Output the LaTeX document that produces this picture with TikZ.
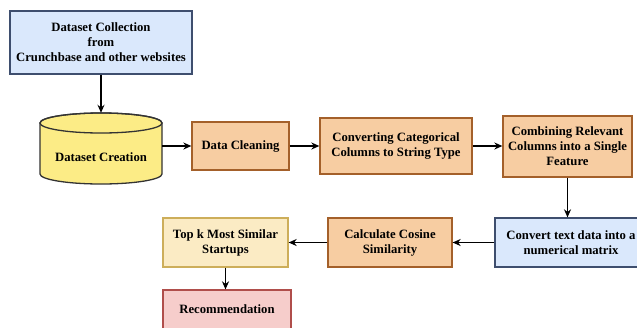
\documentclass[tikz,border=0pt]{standalone}
\usepackage{fontspec}
\setmainfont{Liberation Serif}
\usetikzlibrary{arrows.meta}
\definecolor{bluefill}{HTML}{DAE8FC}
\definecolor{blueline}{HTML}{3E4E6E}
\definecolor{orfill}{HTML}{F7CDA2}
\definecolor{orline}{HTML}{A4602A}
\definecolor{yelfill}{HTML}{FCEC86}
\definecolor{yelline}{HTML}{333333}
\definecolor{ltyfill}{HTML}{FBEBC4}
\definecolor{ltyline}{HTML}{CDAE5A}
\definecolor{pkfill}{HTML}{F6CDCB}
\definecolor{pkline}{HTML}{B04E4B}
\begin{document}
\begin{tikzpicture}[x=1pt,y=-1pt,
  txt/.style={font=\bfseries\fontsize{12.7}{15}\selectfont},
  box/.style={draw, line width=1.3pt, align=center, inner sep=2pt, txt},
  bluebox/.style={box, fill=bluefill, draw=blueline},
  orbox/.style={box, fill=orfill, draw=orline},
  ltybox/.style={box, fill=ltyfill, draw=ltyline},
  pkbox/.style={box, fill=pkfill, draw=pkline},
  arr/.style={-{Stealth[length=8pt,width=7pt]}, line width=1.4pt, black}]
\useasboundingbox (0,0) rectangle (637,327);
\clip (0,0) rectangle (637,327);

\node[bluebox, minimum width=182pt, minimum height=63pt] (coll) at (101,42.5)
  {Dataset Collection\\from\\Crunchbase and other websites};

% cylinder
\filldraw[fill=yelfill, draw=yelline, line width=1.3pt]
  (40,123) -- (40,174) arc[start angle=180, end angle=0, x radius=61, y radius=10]
  -- (162,123) arc[start angle=0, end angle=-180, x radius=61, y radius=10] -- cycle;
\draw[yelline, line width=1.3pt] (101,123) ellipse[x radius=61, y radius=10];
\node[minimum width=122pt, minimum height=71pt, inner sep=0pt] (cyl) at (101,148.5) {};
\node[txt] (cyltxt) at (101,157) {Dataset Creation};

\node[orbox, minimum width=97pt, minimum height=48pt] (clean) at (240.5,146) {Data Cleaning};
\node[orbox, minimum width=152pt, minimum height=56pt] (conv) at (396,146)
  {Converting Categorical\\Columns to String Type};
\node[orbox, minimum width=129pt, minimum height=61pt] (comb) at (567.5,146.5)
  {Combining Relevant\\Columns into a Single\\Feature};
\node[bluebox, minimum width=152pt, minimum height=49pt] (vec) at (571,242.5)
  {Convert text data into a\\numerical matrix};
\node[orbox, minimum width=124pt, minimum height=49pt] (cos) at (390,242.5)
  {Calculate Cosine\\Similarity};
\node[ltybox, minimum width=125pt, minimum height=49pt] (topk) at (225.5,242.5)
  {Top k Most Similar\\Startups};
\node[pkbox, minimum width=128pt, minimum height=50pt] (rec) at (227,315)
  {\raisebox{12pt}{Recommendation}};

\draw[arr] (coll.south) -- (cyl.north);
\draw[arr] (cyl.east |- clean.west) -- (clean.west);
\draw[arr] (clean.east) -- (conv.west);
\draw[arr] (conv.east) -- (conv.east -| comb.west);
\draw[arr] (comb.south) -- (comb.south |- vec.north);
\draw[arr] (vec.west) -- (cos.east);
\draw[arr] (cos.west) -- (topk.east);
\draw[arr] (topk.south) -- (topk.south |- rec.north);
\end{tikzpicture}
\end{document}
